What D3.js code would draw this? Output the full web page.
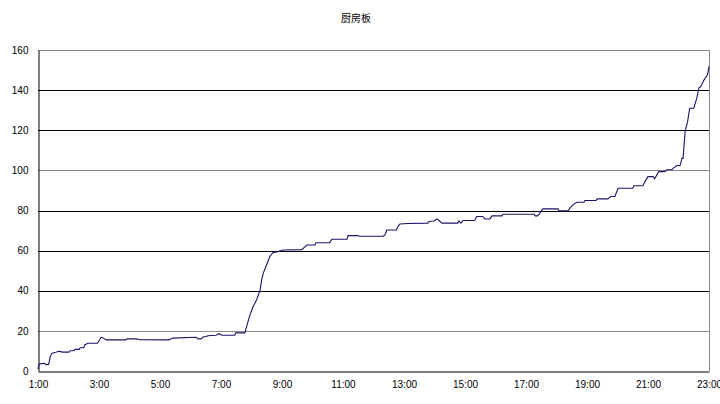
<!DOCTYPE html>
<html><head><meta charset="utf-8">
<script src="https://cdn.jsdelivr.net/npm/d3@7"></script>
<style>body{margin:0;background:#fff}svg{display:block}</style>
</head><body>
<script>
const title = "厨房板";
const times = ["1:00","1:02","1:12","1:16","1:21","1:24","1:27","1:35","1:41","1:49","2:01","2:03","2:11","2:13","2:21","2:23","2:30","2:32","2:38","2:57","3:04","3:08","3:14","3:53","3:55","4:13","4:21","5:18","5:24","6:11","6:15","6:21","6:25","6:30","6:34","6:50","6:56","7:02","7:27","7:29","7:47","7:49","7:57","8:03","8:10","8:17","8:20","8:23","8:27","8:31","8:36","8:42","8:52","9:02","9:39","9:49","10:05","10:07","10:34","10:38","11:08","11:10","11:29","11:33","12:19","12:23","12:26","12:45","12:48","12:52","13:08","13:47","13:49","13:59","14:05","14:11","14:15","14:46","14:48","14:52","14:56","15:19","15:23","15:35","15:39","15:49","15:53","16:13","16:15","17:16","17:18","17:23","17:27","17:33","18:03","18:05","18:23","18:26","18:32","18:40","18:54","18:56","19:18","19:20","19:41","19:47","19:55","20:01","20:30","20:32","20:50","20:54","21:00","21:10","21:13","21:18","21:21","21:33","21:37","21:47","21:50","21:57","22:03","22:07","22:09","22:13","22:18","22:22","22:30","22:36","22:40","22:44","22:50","22:57","23:00"];
const values = [1,3.5,3.8,3.2,3.3,7,8.8,9.3,9.8,9.4,9.4,10.1,10.1,10.8,10.8,11.6,11.6,13,13.8,13.8,16.8,16.5,15.5,15.5,16,16,15.6,15.5,16.4,16.8,16,16,17.1,17.1,17.6,17.8,18.6,17.8,17.8,19,19,21,28,32,35.4,40.4,45.4,48.7,51.2,53.7,57,59,59.5,60.3,60.5,62.8,62.8,63.9,64,65.7,65.7,67.5,67.5,67.2,67.2,68,70.3,70.3,72,73.3,73.5,73.7,74.5,74.8,75.8,74.5,73.7,73.7,74.8,73.7,75,75,77,77,75.8,75.8,77.3,77.3,78.1,78.1,77.3,77.3,78.6,80.8,80.8,79.8,79.8,81.1,82.8,84.1,84.1,85,85,85.8,85.8,87,87,91.1,91.1,92.3,92.3,94.4,96.9,96.9,95.8,98,99.4,99.4,100.3,100.3,101.1,102.4,102.4,106,106,119.4,124.4,131,131,136,141,141.8,145,147.7,151.8];
const xTickLabels = ["1:00","3:00","5:00","7:00","9:00","11:00","13:00","15:00","17:00","19:00","21:00","23:00"];
const yTicks = [0,20,40,60,80,100,120,140,160];
const grayGrid = [20,100,160];

const W = 720, H = 404;
const L = 38, R = 709, T = 50, B = 371;
const toH = s => { const [h,m] = s.split(":").map(Number); return h + m/60; };

const x = d3.scaleLinear().domain([1,23]).range([L,R]);
const y = d3.scaleLinear().domain([0,160]).range([B,T]);

const svg = d3.select("body").append("svg").attr("width",W).attr("height",H);

svg.append("text").attr("x",356).attr("y",22).attr("text-anchor","middle")
  .attr("font-family","'Noto Sans CJK SC','Noto Sans CJK JP',sans-serif").attr("font-size",10).attr("fill","#000")
  .text(title);

// gridlines
svg.append("g").selectAll("line").data(yTicks.filter(d=>d>0)).join("line")
  .attr("x1",L).attr("x2",R).attr("y1",d=>Math.round(y(d))+0.5).attr("y2",d=>Math.round(y(d))+0.5)
  .attr("stroke",d=>grayGrid.includes(d)?"#8a8a8a":"#000").attr("stroke-width",1);

// right border
svg.append("line").attr("x1",R+0.5).attr("x2",R+0.5).attr("y1",T).attr("y2",B)
  .attr("stroke","#8a8a8a");

// axes
const yAxis = d3.axisLeft(y).tickValues(yTicks).tickSize(0).tickPadding(10);
const gy = svg.append("g").attr("transform",`translate(${L+0.5},0)`).call(yAxis);
gy.select(".domain").attr("stroke","#000");
gy.selectAll("text").attr("font-family","'Liberation Sans',Arial,sans-serif").attr("font-size",10).attr("fill","#000");

const xAxis = d3.axisBottom(x).tickValues(xTickLabels.map(toH)).tickFormat((d,i)=>xTickLabels[i]).tickSize(0).tickPadding(9);
const gx = svg.append("g").attr("transform",`translate(0,${B+0.5})`).call(xAxis);
gx.select(".domain").attr("stroke","#000");
gx.selectAll("text").attr("font-family","'Liberation Sans',Arial,sans-serif").attr("font-size",10).attr("fill","#000");

// line
const data = times.map((t,i)=>({t:toH(t), v:values[i]}));
svg.append("path").datum(data)
  .attr("fill","none").attr("stroke","#1a1466").attr("stroke-width",1.1)
  .attr("d", d3.line().x(d=>x(d.t)).y(d=>y(d.v)));
</script>
</body></html>
